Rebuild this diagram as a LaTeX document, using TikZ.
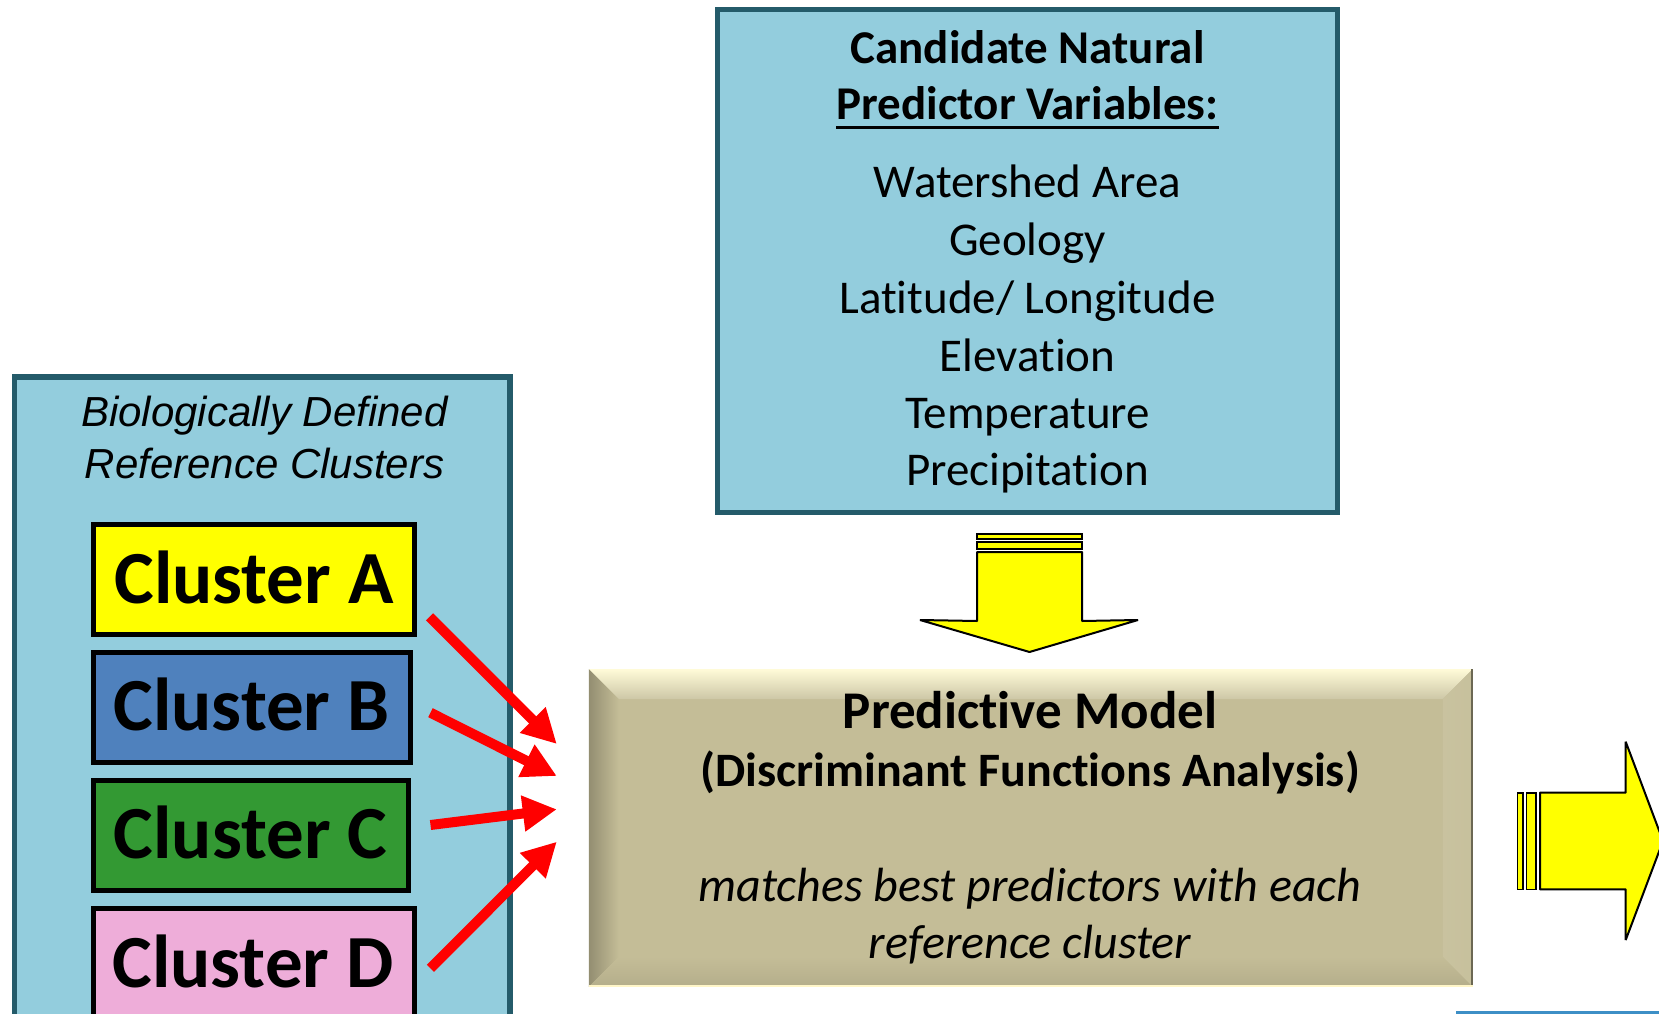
\documentclass[tikz,border=0pt]{standalone}
\usepackage{fontspec}
\setmainfont{Carlito}[Ligatures=NoCommon]
\newfontfamily\arialf{Liberation Sans}
\usetikzlibrary{arrows.meta}
\definecolor{aquafill}{HTML}{93CDDD}
\definecolor{tealedge}{HTML}{245B6A}
\definecolor{clAcol}{HTML}{FFFF00}
\definecolor{clBcol}{HTML}{4F81BD}
\definecolor{clCcol}{HTML}{339933}
\definecolor{clDcol}{HTML}{EEADD9}
\definecolor{tanmid}{HTML}{C4BD97}
\definecolor{tanlight}{HTML}{FFFBD8}
\definecolor{tanedge}{HTML}{FFF6C8}
\definecolor{arrowred}{HTML}{FF0000}
\definecolor{bluestrip}{HTML}{3D8FC6}
\tikzset{
  aquabox/.style={draw=tealedge, line width=5.5pt, fill=aquafill, rectangle, inner sep=0pt},
  clbox/.style={draw=black, line width=5pt, rectangle, inner sep=0pt, minimum width=321pt},
  cltext/.style={anchor=base, inner sep=0pt, font=\fontsize{75}{80}\selectfont\bfseries},
  vartext/.style={anchor=base, inner sep=0pt, font=\fontsize{47}{56}\selectfont},
  varhead/.style={anchor=base, inner sep=0pt, font=\fontsize{47}{56}\selectfont\bfseries},
  biotext/.style={anchor=base, inner sep=0pt, font=\fontsize{42}{50}\selectfont\arialf\itshape},
  modbold/.style={anchor=base, inner sep=0pt, font=\bfseries},
  moditalic/.style={anchor=base, inner sep=0pt, font=\fontsize{48}{56}\selectfont\itshape},
  redarrow/.style={draw=arrowred, line width=10pt, -{Triangle[length=34pt, width=34pt]}},
  blockarrow/.style={draw=black, line width=2pt, fill=clAcol, line join=bevel},
  stripe/.style={draw=black, line width=1.6pt, fill=clAcol},
}
\begin{document}
\begin{tikzpicture}[x=1pt,y=-1pt]
\useasboundingbox (0,0) rectangle (1659,1014);

% ---- Candidate predictor variables box
\node[aquabox, minimum width=620pt, minimum height=503pt] (vars) at (1027.5,260.9) {};
\node[varhead] (h1) at (1027.5,63.3) {Candidate Natural};
\node[varhead] (h2) at (1027.5,120) {Predictor Variables:};
\draw[line width=3.4pt] ([yshift=-7.5pt]h2.base west) -- ([yshift=-7.5pt]h2.base east);
\node[vartext] (v1) at (1027.5,197) {Watershed Area};
\node[vartext] (v2) at (1027.5,255) {Geology};
\node[vartext] (v3) at (1027.5,313) {Latitude/ Longitude};
\node[vartext] (v4) at (1027.5,371) {Elevation};
\node[vartext] (v5) at (1027.5,428) {Temperature};
\node[vartext] (v6) at (1027.5,485) {Precipitation};

% ---- Reference clusters box
\node[aquabox, minimum width=495.5pt, minimum height=653pt] (refs) at (262.25,703.5) {};
\node[biotext] (b1) at (264.5,426.7) {Biologically Defined};
\node[biotext] (b2) at (264.5,478) {Reference Clusters};

\node[clbox, fill=clAcol, minimum width=321pt, minimum height=110pt] (clA) at (254,579.5) {};
\node[clbox, fill=clBcol, minimum width=317.3pt, minimum height=110pt] (clB) at (252.15,707.5) {};
\node[clbox, fill=clCcol, minimum width=314.5pt, minimum height=110pt] (clC) at (250.75,835) {};
\node[clbox, fill=clDcol, minimum width=320.5pt, minimum height=112pt] (clD) at (253.75,964.5) {};
\node[cltext] (tA) at (254,603.3) {Cluster A};
\node[cltext] (tB) at (251.5,730.7) {Cluster B};
\node[cltext] (tC) at (250.5,858.3) {Cluster C};
\node[cltext] (tD) at (253,987.5) {Cluster D};

% ---- Predictive model (bevelled box)
\node[rectangle, inner sep=0pt, minimum width=883.6pt, minimum height=317.4pt] (model) at (1030.8,828) {};
\coordinate (o1) at (model.north west);
\coordinate (o2) at (model.north east);
\coordinate (o3) at (model.south east);
\coordinate (o4) at (model.south west);
\coordinate (i1) at ([xshift=30pt,yshift=-30pt]model.north west);
\coordinate (i2) at ([xshift=-30pt,yshift=-30pt]model.north east);
\coordinate (i3) at ([xshift=-30pt,yshift=30pt]model.south east);
\coordinate (i4) at ([xshift=30pt,yshift=30pt]model.south west);
\fill[tanmid] (o1) rectangle (o3);
\shade[top color=tanlight, bottom color=tanmid!85!white] (o1) -- (o2) -- (i2) -- (i1) -- cycle;
\shade[left color=tanmid!75!black, right color=tanmid] (o1) -- (i1) -- (i4) -- (o4) -- cycle;
\shade[left color=tanmid!92!white, right color=tanmid!95!white] (o2) -- (i2) -- (i3) -- (o3) -- cycle;
\shade[top color=tanmid, bottom color=tanmid!92!black] (o4) -- (i4) -- (i3) -- (o3) -- cycle;
\draw[tanmid!55!black, line width=1.5pt] ([xshift=-0.75pt]o2) -- ([xshift=-0.75pt]o3);
\draw[tanedge, line width=2pt] ([yshift=1pt]o4) -- ([yshift=1pt]o3);
\node[modbold, font=\fontsize{53}{60}\selectfont\bfseries] (m1) at (1030,728.3) {Predictive Model};
\node[modbold, font=\fontsize{48}{56}\selectfont\bfseries] (m2) at (1030,786.7) {(Discriminant Functions Analysis)};
\node[moditalic] (m3) at (1030,901.7) {matches best predictors with each};
\node[moditalic] (m4) at (1030,958.3) {reference cluster};

% ---- Red arrows from clusters to the model
\coordinate (sA) at (429.5,616.8);
\coordinate (eA) at (556.8,744);
\coordinate (sB) at (430.5,712.7);
\coordinate (eB) at (556.8,776);
\coordinate (sC) at (430.5,825);
\coordinate (eC) at (556.8,809.3);
\coordinate (sD) at (430.5,968.3);
\coordinate (eD) at (556.8,841.7);
\draw[redarrow] (sA) -- (eA);
\draw[redarrow] (sB) -- (eB);
\draw[redarrow] (sC) -- (eC);
\draw[redarrow] (sD) -- (eD);

% ---- Yellow block arrow down (variables -> model)
\draw[stripe] (977,534) rectangle (1082,539);
\draw[stripe] (977,542) rectangle (1082,549);
\draw[blockarrow] (977,552) -- (1082,552) -- (1082,621) -- (1138,620) -- (1029.5,652) -- (920,620) -- (977,621) -- cycle;

% ---- Yellow block arrow right (model -> beyond)
\draw[stripe] (1517.3,792.7) rectangle (1523,889.3);
\draw[stripe] (1526.3,792.7) rectangle (1536,889.3);
\draw[blockarrow] (1540,792.7) -- (1625.7,792.7) -- (1625.7,741.7) -- (1663,841) -- (1625.7,940) -- (1625.7,889.3) -- (1540,889.3) -- cycle;

% ---- Edge of a further box at the bottom right
\fill[bluestrip] (1456,1011.3) rectangle (1670,1030);
\end{tikzpicture}
\end{document}
